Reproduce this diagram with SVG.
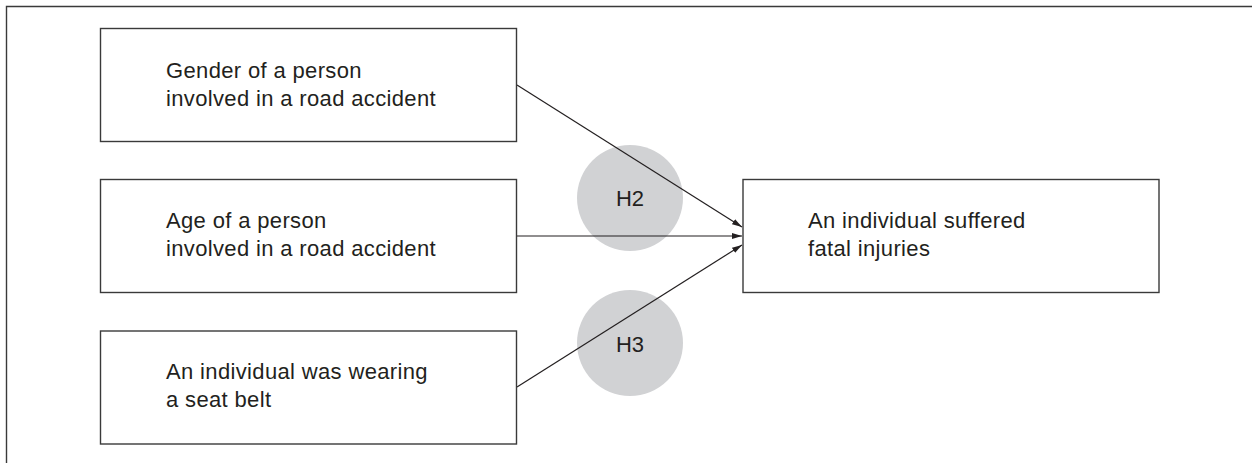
<svg xmlns="http://www.w3.org/2000/svg" width="1252" height="463" viewBox="0 0 1252 463">
<style>
.box{fill:#fff;stroke:#3a3a3a;stroke-width:1.4}
.lbl{font-family:"Liberation Sans",Arial,sans-serif;font-size:22px;fill:#231f20;letter-spacing:0.35px}
.hyp{fill:#d1d2d4}
.hl{font-family:"Liberation Sans",Arial,sans-serif;font-size:22px;fill:#231f20;text-anchor:middle}
.conn{stroke:#231f20;stroke-width:1.2;fill:none;marker-end:url(#ah)}
</style>
<defs>
<marker id="ah" viewBox="0 0 10 6" refX="10" refY="3" markerWidth="10" markerHeight="6" markerUnits="userSpaceOnUse" orient="auto">
<path d="M0,0 L10,3 L0,6 Z" fill="#231f20"/>
</marker>
</defs>
<rect width="1252" height="463" fill="#fff"/>
<path d="M6.5,463 V6.5 H1252" fill="none" stroke="#3a3a3a" stroke-width="1.4"/>
<g id="hypotheses">
<g id="h2"><circle class="hyp" cx="630" cy="198" r="53"/><text class="hl" x="630" y="206">H2</text></g>
<g id="h3"><circle class="hyp" cx="630" cy="343" r="53"/><text class="hl" x="630" y="352">H3</text></g>
</g>
<g id="connectors">
<line class="conn" x1="517" y1="85" x2="742" y2="227"/>
<line class="conn" x1="517" y1="236" x2="742" y2="236"/>
<line class="conn" x1="517" y1="387" x2="742" y2="245"/>
</g>
<g id="gender">
<rect class="box" x="100.5" y="28.5" width="416" height="113"/>
<text class="lbl" x="166" y="78">Gender of a person</text>
<text class="lbl" x="166" y="106">involved in a road accident</text>
</g>
<g id="age">
<rect class="box" x="100.5" y="179.5" width="416" height="113"/>
<text class="lbl" x="166" y="228">Age of a person</text>
<text class="lbl" x="166" y="256">involved in a road accident</text>
</g>
<g id="seatbelt">
<rect class="box" x="100.5" y="331" width="416" height="113"/>
<text class="lbl" x="166" y="379">An individual was wearing</text>
<text class="lbl" x="166" y="407">a seat belt</text>
</g>
<g id="fatal">
<rect class="box" x="743" y="179.5" width="416" height="113"/>
<text class="lbl" x="808" y="228">An individual suffered</text>
<text class="lbl" x="808" y="256">fatal injuries</text>
</g>
</svg>
